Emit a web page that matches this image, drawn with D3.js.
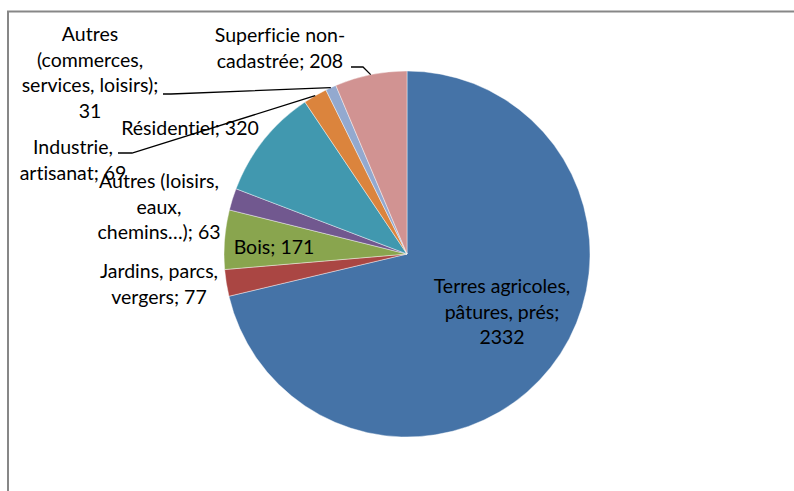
<!DOCTYPE html>
<html>
<head>
<meta charset="utf-8">
<script src="https://cdn.jsdelivr.net/npm/d3@7"></script>
<style>
    body { margin: 0; background: #fff; }
    text { font-family: Lato, "Noto Sans", sans-serif; font-size: 19.5px; fill: #000; font-variant-ligatures: none; }
</style>
</head>
<body>
<div id="chart"></div>
<script>
// data (hectares per land use)
var categories = ["Terres agricoles, pâtures, prés", "Jardins, parcs, vergers", "Bois",
                  "Autres (loisirs, eaux, chemins…)", "Résidentiel", "Industrie, artisanat",
                  "Autres (commerces, services, loisirs)", "Superficie non-cadastrée"];
var values = [2332, 77, 171, 63, 320, 69, 31, 208];
var colors = ["#4573A7", "#AA4643", "#89A54E", "#71588F", "#4198AF", "#DB843D", "#93A9CF", "#D19392"];

// label placement: centre x, first baseline, words per line, optional leader start
var labelLayout = [
    {x: 502, y: 293, words: [2, 2, 1]},
    {x: 159, y: 278, words: [2, 2]},
    {x: 274, y: 254, words: [2]},
    {x: 159, y: 188, words: [2, 1, 2]},
    {x: 190, y: 135, words: [2]},
    {x: 73, y: 154, words: [1, 2], leader: [[118, 153], [132, 153]]},
    {x: 90, y: 41, words: [1, 1, 2, 1], leader: [[163, 94], [171, 94]]},
    {x: 280, y: 42, words: [2, 2], leader: [[351, 67], [363, 67]]}
];

var width = 794, height = 491;
var cx = 407, cy = 254, radius = 183;
var lineHeight = 25.5;

var svg = d3.select("#chart").append("svg")
    .attr("width", width).attr("height", height);

// chart area frame (only top and left edges show in the picture)
svg.append("path")
    .attr("d", "M8," + height + "V11.5H" + width)
    .attr("fill", "none").attr("stroke", "#878787").attr("stroke-width", 2);

var pie = d3.pie().sort(null).value(function(d){ return d; });
var arc = d3.arc().innerRadius(0).outerRadius(radius);
var arcs = pie(values);

var g = svg.append("g").attr("transform", "translate(" + cx + "," + cy + ")");
g.selectAll("path.slice").data(arcs).enter().append("path")
    .attr("class", "slice")
    .attr("d", arc)
    .attr("fill", function(d, i){ return colors[i]; })
    .attr("stroke", "#fff").attr("stroke-opacity", 0.6).attr("stroke-width", 0.7);

function tokens(s) {
    var out = [];
    s.split(" ").forEach(function(w){
        var parts = w.split(/(?<=-)/);
        parts.forEach(function(p){ out.push(p); });
    });
    return out;
}
function joinTokens(t) {
    var s = "";
    t.forEach(function(w, i){
        if (i > 0 && !/-$/.test(t[i-1])) s += " ";
        s += w;
    });
    return s;
}

// leader lines
arcs.forEach(function(d, i){
    var lay = labelLayout[i];
    if (!lay.leader) return;
    var mid = (d.startAngle + d.endAngle) / 2;
    var end = [cx + radius * Math.sin(mid), cy - radius * Math.cos(mid)];
    var pts = lay.leader.concat([end]);
    svg.append("path")
        .attr("d", d3.line()(pts))
        .attr("fill", "none").attr("stroke", "#000").attr("stroke-width", 1.3);
});

// labels
arcs.forEach(function(d, i){
    var lay = labelLayout[i];
    var t = tokens(categories[i] + "; " + values[i]);
    var text = svg.append("text").attr("text-anchor", "middle");
    var k = 0;
    lay.words.forEach(function(n, li){
        text.append("tspan")
            .attr("x", lay.x)
            .attr("y", lay.y + li * lineHeight)
            .text(joinTokens(t.slice(k, k + n)));
        k += n;
    });
});
</script>
</body>
</html>
